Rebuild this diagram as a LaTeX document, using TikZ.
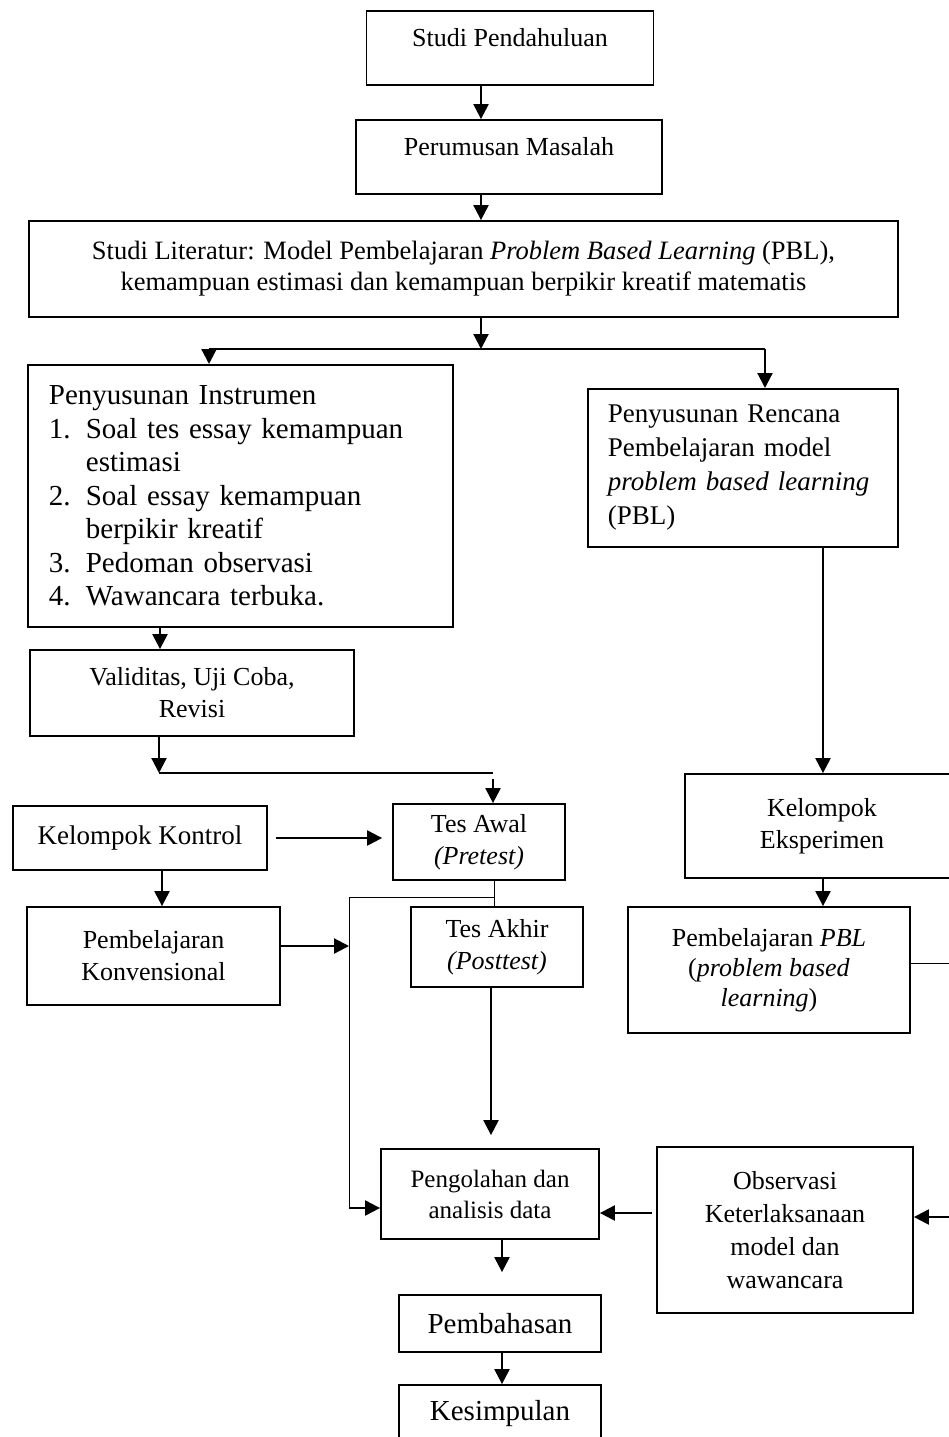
\documentclass[tikz,border=0pt]{standalone}
\usepackage{fontspec}
\setmainfont{Liberation Serif}
\usepackage{tikz}
\usetikzlibrary{arrows.meta,positioning}
\tikzset{
kotak/.style={
  draw, rectangle, line width=1.8pt,
  align=center
},
kotakkiri/.style={
  draw, rectangle, line width=1.8pt,
  align=left, anchor=north west
},
panah/.style={-{Triangle[length=15pt,width=15pt]}, line width=2.2pt},
garis/.style={line width=1.8pt},
tipis/.style={line width=1pt},
}
\newcommand{\nomor}[1]{\makebox[37pt][l]{#1}}
\newcommand{\gantung}{\hspace*{37pt}}

\begin{document}
\begin{tikzpicture}[x=1pt, y=-1pt, font=\fontsize{26}{32}\selectfont]
            \useasboundingbox[fill=white] (0,0) rectangle (949,1437);
            \clip (0,0) rectangle (949,1437);
            % alur utama
            \node[kotak, minimum width=287, minimum height=74, text depth=22pt] (pendahuluan) at (510,48) {Studi Pendahuluan};
            \node[kotak, minimum width=306, minimum height=74, text depth=22pt] (perumusan) at (509,157) {Perumusan Masalah};
            \node[kotak, minimum width=869, minimum height=96, font=\fontsize{26.5}{31}\selectfont] (literatur) at (463.5,269)
                {Studi Literatur: Model Pembelajaran \textit{Problem Based Learning} (PBL),\\kemampuan estimasi dan kemampuan berpikir kreatif matematis};
            \node[kotakkiri, text width=383pt, inner xsep=21pt, minimum height=262, font=\fontsize{29}{33.5}\selectfont] (instrumen) at (27,364)
                {Penyusunan Instrumen\\
                 \nomor{1.}Soal tes essay kemampuan\\
                 \gantung estimasi\\
                 \nomor{2.}Soal essay kemampuan\\
                 \gantung berpikir kreatif\\
                 \nomor{3.}Pedoman observasi\\
                 \nomor{4.}Wawancara terbuka.};
            \node[kotakkiri, text width=270pt, inner xsep=20pt, minimum height=158, font=\fontsize{27}{34}\selectfont] (rencana) at (587,388)
                {Penyusunan Rencana\\Pembelajaran model\\\textit{problem based learning}\\(PBL)};
            \node[kotak, minimum width=324, minimum height=86] (validitas) at (192,693) {Validitas, Uji Coba,\\Revisi};
            \node[kotak, minimum width=254, minimum height=64, font=\fontsize{27}{32}\selectfont] (kontrol) at (140,838) {Kelompok Kontrol};
            \node[kotak, minimum width=172, minimum height=76] (tesawal) at (479,842) {Tes Awal\\\textit{(Pretest)}};
            \node[kotak, minimum width=253, minimum height=98] (konvensional) at (153.5,956) {Pembelajaran\\Konvensional};
            \node[kotak, minimum width=172, minimum height=80] (tesakhir) at (497,947) {Tes Akhir\\\textit{(Posttest)}};
            \node[kotak, minimum width=274, minimum height=104] (eksperimen) at (822,826) {Kelompok\\Eksperimen};
            \node[kotak, minimum width=282, minimum height=126, font=\fontsize{26}{30}\selectfont] (pbl) at (769,970)
                {Pembelajaran \textit{PBL}\\(\textit{problem based}\\\textit{learning})};
            \node[kotak, minimum width=218, minimum height=90, font=\fontsize{25}{31}\selectfont] (pengolahan) at (490,1194) {Pengolahan dan\\analisis data};
            \node[kotak, minimum width=256, minimum height=166, font=\fontsize{26}{33}\selectfont] (observasi) at (785,1230)
                {Observasi\\Keterlaksanaan\\model dan\\wawancara};
            \node[kotak, minimum width=202, minimum height=57, font=\fontsize{29}{32}\selectfont] (pembahasan) at (500,1323.5) {Pembahasan};
            \node[kotak, minimum width=202, minimum height=57, font=\fontsize{29}{32}\selectfont] (kesimpulan) at (500,1413.5) {Kesimpulan};

            % titik bantu
            \coordinate (sumbu) at (481,0);
            \coordinate (cabang) at (481,349);
            \coordinate (cabangkiri) at (209,349);
            \coordinate (cabangkanan) at (765,349);
            \coordinate (kolomkiri) at (160,0);
            \coordinate (gabung) at (159,773);
            \coordinate (gabungkanan) at (493,773);
            \coordinate (kolomkanan) at (823,0);
            \coordinate (kolomkontrol) at (162,0);
            \coordinate (rel) at (349,946);
            \coordinate (cabangtes) at (494,897);
            \coordinate (relbawah) at (349,1208);
            \coordinate (kolomtengah) at (491,0);
            \coordinate (barisobs) at (0,1213);
            \coordinate (tepiatas) at (962,963);
            \coordinate (tepibawah) at (962,1217);
            \coordinate (kolombawah) at (502,0);

            % panah
            \draw[panah] (pendahuluan.south -| sumbu) -- (perumusan.north -| sumbu);
            \draw[panah] (perumusan.south -| sumbu) -- (literatur.north -| sumbu);
            \draw[panah] (literatur.south -| sumbu) -- (cabang);
            \draw[garis] (cabangkiri) -- (cabangkanan);
            \draw[panah] (cabangkiri) -- (instrumen.north -| cabangkiri);
            \draw[panah] (cabangkanan) -- (rencana.north -| cabangkanan);

            \draw[panah] (instrumen.south -| kolomkiri) -- (validitas.north -| kolomkiri);
            \draw[panah] (validitas.south -| gabung) -- (gabung);
            \draw[garis] (gabung) -- (gabungkanan);
            \draw[panah, shorten <=6pt] (gabungkanan) -- (tesawal.north -| gabungkanan);

            \draw[panah, shorten <=8pt, shorten >=10pt] (kontrol.east) -- (kontrol.east -| tesawal.west);
            \draw[panah] (kontrol.south -| kolomkontrol) -- (konvensional.north -| kolomkontrol);
            \draw[panah] (konvensional.east |- rel) -- (rel);

            \draw[tipis] (tesawal.south -| cabangtes) -- (tesakhir.north -| cabangtes);
            \draw[tipis] (cabangtes) -- (cabangtes -| relbawah) -- (relbawah);
            \draw[panah] (relbawah) -- (pengolahan.west |- relbawah);
            \draw[panah, shorten >=13pt] (tesakhir.south -| kolomtengah) -- (pengolahan.north -| kolomtengah);

            \draw[panah] (rencana.south -| kolomkanan) -- (eksperimen.north -| kolomkanan);
            \draw[panah] (eksperimen.south -| kolomkanan) -- (pbl.north -| kolomkanan);
            \draw[tipis] (pbl.east |- tepiatas) -- (tepiatas) -- (tepibawah);
            \draw[panah] (tepibawah) -- (observasi.east |- tepibawah);
            \draw[panah, shorten <=4pt] (observasi.west |- barisobs) -- (pengolahan.east |- barisobs);

            \draw[panah, shorten >=22pt] (pengolahan.south -| kolombawah) -- (pembahasan.north -| kolombawah);
            \draw[panah] (pembahasan.south -| kolombawah) -- (kesimpulan.north -| kolombawah);
        \end{tikzpicture}
\end{document}
